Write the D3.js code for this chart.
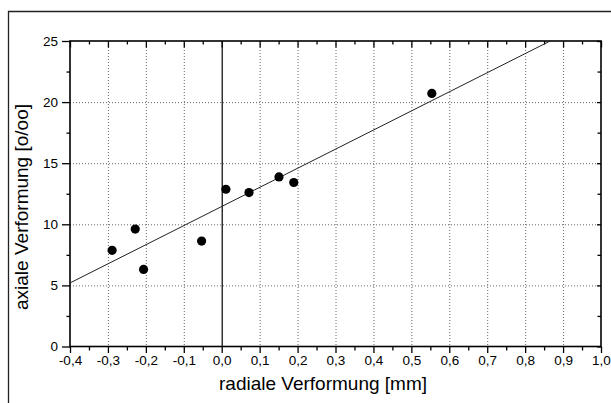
<!DOCTYPE html>
<html><head><meta charset="utf-8">
<script src="https://cdn.jsdelivr.net/npm/d3@7"></script>
<style>
html,body{margin:0;padding:0;background:#fff;}
svg text{font-family:"Liberation Sans",Arial,sans-serif;fill:#000;}
</style></head>
<body><svg id="c" width="611" height="403"></svg>
<script>
// ---- data ----
const radialX = [-0.289, -0.228, -0.206, -0.053, 0.011, 0.072, 0.151, 0.19, 0.554];
const axialY  = [7.87, 9.61, 6.31, 8.63, 12.87, 12.6, 13.88, 13.42, 20.71];
const fitX = [-0.4, 0.866];
const fitY = [5.2, 25];
const xTickValues = [-0.4,-0.3,-0.2,-0.1,0.0,0.1,0.2,0.3,0.4,0.5,0.6,0.7,0.8,0.9,1.0];
const xTickLabels = ["-0,4","-0,3","-0,2","-0,1","0,0","0,1","0,2","0,3","0,4","0,5","0,6","0,7","0,8","0,9","1,0"];
const yTickValues = [0,5,10,15,20,25];
const yTickLabels = ["0","5","10","15","20","25"];
const xMinor = [-0.35,-0.25,-0.15,-0.05,0.05,0.15,0.25,0.35,0.45,0.55,0.65,0.75,0.85,0.95];
const yMinor = [2.5,7.5,12.5,17.5,22.5];
const xTitle = "radiale Verformung [mm]";
const yTitle = "axiale Verformung [o/oo]";

// ---- layout ----
const L=70, R=601, T=41, B=346.5;
const svg = d3.select("#c");
const x = d3.scaleLinear().domain([-0.4,1.0]).range([L,R]);
const y = d3.scaleLinear().domain([0,25]).range([B,T]);

// outer frame
svg.append("path").attr("d","M8.5,403 L8.5,11.5 L611,11.5")
  .attr("fill","none").attr("stroke","#222").attr("stroke-width",1.3);

// grid
const gridX = xTickValues.filter(v=>Math.abs(v)>1e-9 && v>-0.39 && v<0.99);
svg.append("g").selectAll("line").data(gridX).join("line")
  .attr("x1",d=>x(d)+0.5).attr("x2",d=>x(d)+0.5).attr("y1",T).attr("y2",B)
  .attr("stroke","#666").attr("stroke-width",1).attr("stroke-dasharray","1,2");
const gridY = yTickValues.filter(v=>v>0 && v<25);
svg.append("g").selectAll("line").data(gridY).join("line")
  .attr("x1",L).attr("x2",R).attr("y1",d=>y(d)+0.5).attr("y2",d=>y(d)+0.5)
  .attr("stroke","#666").attr("stroke-width",1).attr("stroke-dasharray","1,2");
// zero line
svg.append("line").attr("x1",x(0)+0.5).attr("x2",x(0)+0.5).attr("y1",T).attr("y2",B)
  .attr("stroke","#000").attr("stroke-width",1.2);

// axes
function styleAxis(g){ g.select(".domain").remove(); g.selectAll("line").attr("stroke","#000").attr("stroke-width",1.3); }
const fmtX = d=>xTickLabels[xTickValues.findIndex(v=>Math.abs(v-d)<1e-9)];
const fmtY = d=>yTickLabels[yTickValues.indexOf(d)];
const tickFont = g=>g.selectAll("text").attr("font-size",13.5).attr("font-family","Liberation Sans, Arial, sans-serif");

svg.append("g").attr("transform",`translate(0,${B})`)
  .call(d3.axisBottom(x).tickValues(xTickValues).tickFormat(fmtX).tickSize(6.5).tickPadding(2.5))
  .call(styleAxis).call(tickFont);
svg.append("g").attr("transform",`translate(0,${B})`)
  .call(d3.axisBottom(x).tickValues(xMinor).tickFormat("").tickSize(4)).call(styleAxis);
svg.append("g").attr("transform",`translate(0,${T})`)
  .call(d3.axisBottom(x).tickValues(xTickValues).tickFormat("").tickSize(6.5)).call(styleAxis);
svg.append("g").attr("transform",`translate(0,${T})`)
  .call(d3.axisBottom(x).tickValues(xMinor).tickFormat("").tickSize(3.5)).call(styleAxis);

svg.append("g").attr("transform",`translate(${L},0)`)
  .call(d3.axisLeft(y).tickValues(yTickValues).tickFormat(fmtY).tickSize(8).tickPadding(4))
  .call(styleAxis).call(tickFont);
svg.append("g").attr("transform",`translate(${L},0)`)
  .call(d3.axisLeft(y).tickValues(yMinor).tickFormat("").tickSize(3.5)).call(styleAxis);
svg.append("g").attr("transform",`translate(${R},0)`)
  .call(d3.axisLeft(y).tickValues(yTickValues).tickFormat("").tickSize(4)).call(styleAxis);
svg.append("g").attr("transform",`translate(${R},0)`)
  .call(d3.axisLeft(y).tickValues(yMinor).tickFormat("").tickSize(3.5)).call(styleAxis);

// plot frame
svg.append("rect").attr("x",L).attr("y",T).attr("width",R-L).attr("height",B-T)
  .attr("fill","none").attr("stroke","#000").attr("stroke-width",1.6);

// fit line
const line = d3.line().x(d=>x(d[0])).y(d=>y(d[1]));
svg.append("path").datum(fitX.map((v,i)=>[v,fitY[i]])).attr("d",line)
  .attr("fill","none").attr("stroke","#222").attr("stroke-width",1);

// points
svg.append("g").selectAll("circle").data(radialX.map((v,i)=>[v,axialY[i]])).join("circle")
  .attr("cx",d=>x(d[0])).attr("cy",d=>y(d[1])).attr("r",4.6).attr("fill","#000");

// titles
svg.append("text").attr("x",323).attr("y",390).attr("text-anchor","middle")
  .attr("font-size",19).text(xTitle);
svg.append("text").attr("transform",`translate(28,207) rotate(-90)`).attr("text-anchor","middle")
  .attr("font-size",19).text(yTitle);
</script></body></html>
